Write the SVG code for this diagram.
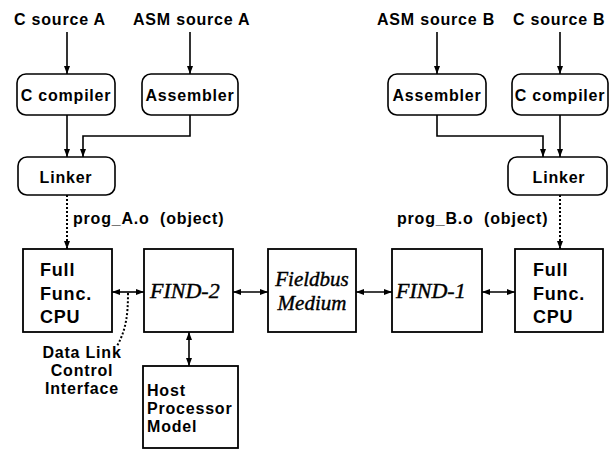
<svg xmlns="http://www.w3.org/2000/svg" width="613" height="450" viewBox="0 0 613 450">
  <style>
    .lbl { font-family: "Liberation Sans", Arial, sans-serif; font-weight: bold; font-size: 16px; letter-spacing: 0.8px; fill: #000; }
    .big { font-size: 18px; }
    .ital { font-family: "Liberation Serif", "Times New Roman", serif; font-style: italic; font-size: 22px; fill: #000; stroke: #000; stroke-width: 0.4; }
    .ital.sm { font-size: 21px; }
    .rbox { fill: #fff; stroke: #000; stroke-width: 1.6; }
    .box { fill: #fff; stroke: #000; stroke-width: 1.8; }
    .wire { fill: none; stroke: #000; stroke-width: 1.6; }
    .dots { fill: none; stroke: #000; stroke-width: 2; stroke-dasharray: 2 2; }
  </style>
  <defs>
    <marker id="head" viewBox="0 0 8 6" refX="8" refY="3" markerWidth="8" markerHeight="6" markerUnits="userSpaceOnUse" orient="auto">
      <path d="M0,0 L8,3 L0,6 z" fill="#000"/>
    </marker>
    <marker id="tail" viewBox="0 0 8 6" refX="0" refY="3" markerWidth="8" markerHeight="6" markerUnits="userSpaceOnUse" orient="auto">
      <path d="M8,0 L0,3 L8,6 z" fill="#000"/>
    </marker>
  </defs>
  <rect width="613" height="450" fill="#fff"/>

  <!-- source labels -->
  <g id="src-c-a"><text class="lbl" x="14" y="25">C source A</text></g>
  <g id="src-asm-a"><text class="lbl" x="133" y="25">ASM source A</text></g>
  <g id="src-asm-b"><text class="lbl" x="377" y="25">ASM source B</text></g>
  <g id="src-c-b"><text class="lbl" x="513" y="25">C source B</text></g>

  <!-- tool chain A -->
  <g id="ccomp-a">
    <rect class="rbox" x="17" y="74" width="98" height="41" rx="9"/>
    <text class="lbl" x="66" y="101" text-anchor="middle">C compiler</text>
  </g>
  <g id="asm-a">
    <rect class="rbox" x="142" y="74" width="96" height="41" rx="9"/>
    <text class="lbl" x="190" y="101" text-anchor="middle">Assembler</text>
  </g>
  <g id="linker-a">
    <rect class="rbox" x="18" y="157" width="97" height="38" rx="9"/>
    <text class="lbl" x="66" y="183" text-anchor="middle">Linker</text>
  </g>

  <!-- tool chain B -->
  <g id="asm-b">
    <rect class="rbox" x="388" y="74" width="98" height="41" rx="9"/>
    <text class="lbl" x="437" y="101" text-anchor="middle">Assembler</text>
  </g>
  <g id="ccomp-b">
    <rect class="rbox" x="512" y="74" width="96" height="41" rx="9"/>
    <text class="lbl" x="560" y="101" text-anchor="middle">C compiler</text>
  </g>
  <g id="linker-b">
    <rect class="rbox" x="508" y="157" width="99" height="38" rx="9"/>
    <text class="lbl" x="559" y="183" text-anchor="middle">Linker</text>
  </g>

  <!-- object file labels -->
  <g id="obj-a"><text class="lbl" x="73" y="224" xml:space="preserve">prog_A.o  (object)</text></g>
  <g id="obj-b"><text class="lbl" x="397" y="224" xml:space="preserve">prog_B.o  (object)</text></g>

  <!-- network row -->
  <g id="cpu-a">
    <rect class="box" x="23" y="249" width="89" height="83"/>
    <text class="lbl big" x="40" y="276">Full</text>
    <text class="lbl big" x="40" y="300">Func.</text>
    <text class="lbl big" x="40" y="323">CPU</text>
  </g>
  <g id="find-2">
    <rect class="box" x="144" y="249" width="89" height="83"/>
    <text class="ital" x="150" y="298">FIND-2</text>
  </g>
  <g id="fieldbus">
    <rect class="box" x="268" y="249" width="88" height="83"/>
    <text class="ital sm" x="312" y="286" text-anchor="middle">Fieldbus</text>
    <text class="ital sm" x="312" y="310" text-anchor="middle">Medium</text>
  </g>
  <g id="find-1">
    <rect class="box" x="392" y="249" width="90" height="83"/>
    <text class="ital" x="396" y="298">FIND-1</text>
  </g>
  <g id="cpu-b">
    <rect class="box" x="515" y="249" width="88" height="83"/>
    <text class="lbl big" x="533" y="276">Full</text>
    <text class="lbl big" x="533" y="300">Func.</text>
    <text class="lbl big" x="533" y="323">CPU</text>
  </g>
  <g id="host">
    <rect class="box" x="143" y="366" width="95" height="82"/>
    <text class="lbl" x="147" y="396">Host</text>
    <text class="lbl" x="147" y="414">Processor</text>
    <text class="lbl" x="147" y="432">Model</text>
  </g>

  <!-- interface note -->
  <g id="dlci-note">
    <text class="lbl" x="82" y="358" text-anchor="middle">Data Link</text>
    <text class="lbl" x="82" y="376" text-anchor="middle">Control</text>
    <text class="lbl" x="82" y="394" text-anchor="middle">Interface</text>
  </g>

  <!-- connectors -->
  <g id="connectors">
    <line class="wire" x1="67" y1="32" x2="67" y2="74" marker-end="url(#head)"/>
    <line class="wire" x1="190" y1="32" x2="190" y2="74" marker-end="url(#head)"/>
    <line class="wire" x1="437" y1="32" x2="437" y2="74" marker-end="url(#head)"/>
    <line class="wire" x1="560" y1="32" x2="560" y2="74" marker-end="url(#head)"/>

    <line class="wire" x1="67" y1="115" x2="67" y2="157" marker-end="url(#head)"/>
    <polyline class="wire" points="190,115 190,136 83,136 83,157" marker-end="url(#head)"/>
    <polyline class="wire" points="437,115 437,136 543,136 543,157" marker-end="url(#head)"/>
    <line class="wire" x1="560" y1="115" x2="560" y2="157" marker-end="url(#head)"/>

    <line class="dots" x1="67" y1="195" x2="67" y2="249" marker-end="url(#head)"/>
    <line class="dots" x1="560" y1="195" x2="560" y2="249" marker-end="url(#head)"/>

    <line class="wire" x1="112" y1="292" x2="144" y2="292" marker-start="url(#tail)" marker-end="url(#head)"/>
    <line class="wire" x1="233" y1="292" x2="268" y2="292" marker-start="url(#tail)" marker-end="url(#head)"/>
    <line class="wire" x1="356" y1="292" x2="392" y2="292" marker-start="url(#tail)" marker-end="url(#head)"/>
    <line class="wire" x1="482" y1="292" x2="515" y2="292" marker-start="url(#tail)" marker-end="url(#head)"/>
    <line class="wire" x1="189" y1="332" x2="189" y2="366" marker-start="url(#tail)" marker-end="url(#head)"/>

    <path class="dots" d="M128,293 C128,315 126,330 117,346"/>
  </g>
</svg>
